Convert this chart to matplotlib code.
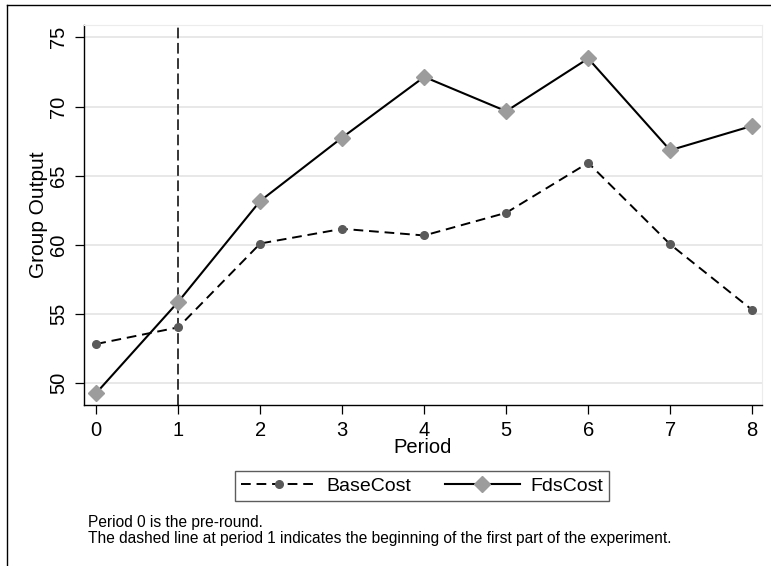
#!/usr/bin/env python3

import matplotlib
matplotlib.use('Agg')
import matplotlib.pyplot as plt
from matplotlib.lines import Line2D

# group output per period, by treatment
periods = [0, 1, 2, 3, 4, 5, 6, 7, 8]
base_cost = [52.84, 54.04, 60.1, 61.16, 60.68, 62.32, 65.93, 60.04, 55.3]
fds_cost = [49.3, 55.89, 63.18, 67.76, 72.14, 69.66, 73.47, 66.84, 68.6]

y_ticks = [50, 55, 60, 65, 70, 75]
series_names = ['BaseCost', 'FdsCost']
start_period = 1

note_text = ('Period 0 is the pre-round.\n'
             'The dashed line at period 1 indicates the beginning of the first part of the experiment.')


def main():
    plt.rcParams['font.family'] = ['Liberation Sans', 'DejaVu Sans']

    fig = plt.figure(figsize=(7.71, 5.66), dpi=100)
    ax = fig.add_axes([84/771, 1 - 405/566, 678/771, 380/566])

    # light horizontal grid
    for yt in y_ticks:
        ax.axhline(yt, color='#e6e6e6', lw=1.3, zorder=0)

    ax.axvline(start_period, color='black', lw=1.1, ls=(0, (7, 3)), zorder=1)

    ax.plot(periods, base_cost, color='black', lw=1.4, ls=(0, (5, 3)),
            marker='o', ms=5.5, mfc='#5a5a5a', mec='#5a5a5a', label=series_names[0], zorder=3)
    ax.plot(periods, fds_cost, color='black', lw=1.5, ls='-',
            marker='D', ms=8, mfc='#9c9c9c', mec='#9c9c9c', label=series_names[1], zorder=3)

    ax.set_xlim(-0.15, 8.12)
    ax.set_ylim(48.43, 75.89)
    ax.set_xticks(periods)
    ax.set_yticks(y_ticks)
    ax.tick_params(axis='both', direction='out', length=6.3, width=0.9, labelsize=14.5, colors='black')
    ax.tick_params(axis='y', labelrotation=90, pad=5)
    for lab in ax.get_yticklabels():
        lab.set_verticalalignment('center')
    ax.tick_params(axis='x', pad=5)

    ax.spines['top'].set_color('#ececec')
    ax.spines['right'].set_color('#ececec')
    ax.spines['left'].set_linewidth(1.0)
    ax.spines['bottom'].set_linewidth(1.0)

    ax.set_xlabel('Period', fontsize=14.5, labelpad=-1)
    ax.set_ylabel('Group Output', fontsize=15, labelpad=1)

    leg = fig.legend(loc='center', bbox_to_anchor=(422/771, 1 - 486/566), ncol=2,
                     fontsize=14, frameon=True, fancybox=False, handlelength=3.9,
                     handletextpad=0.5, columnspacing=1.7, borderpad=0.32, borderaxespad=0,
                     edgecolor='#333333')
    leg.get_frame().set_linewidth(1.0)

    fig.text(88/771, 1 - 515/566, note_text, fontsize=11.2, va='top', ha='left', linespacing=1.1)

    # outer frame
    fig.add_artist(Line2D([7/771, 7/771], [0, 1 - 5/566], color='black', lw=1.0))
    fig.add_artist(Line2D([7/771, 770/771], [1 - 5/566, 1 - 5/566], color='black', lw=1.0))

    fig.savefig('out.png', dpi=100)


if __name__ == "__main__":
    main()
